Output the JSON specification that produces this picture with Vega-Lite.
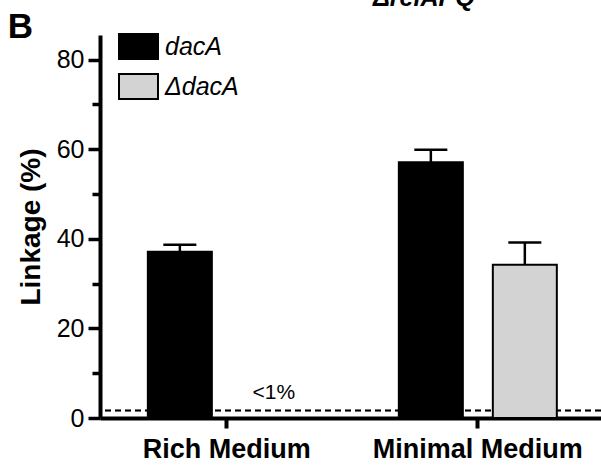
{
  "$schema": "https://vega.github.io/schema/vega-lite/v6.json",
  "width": 501,
  "height": 383,
  "autosize": {"type": "none"},
  "padding": {"left": 100, "top": 35, "right": 0, "bottom": 52},
  "config": {
    "font": "Liberation Sans",
    "view": {"stroke": null},
    "axis": {"grid": false, "domainColor": "#000000", "tickColor": "#000000", "labelColor": "#000000", "titleColor": "#000000"}
  },
  "data": {
    "values": [
      {"medium": "Rich Medium", "strain": "dacA", "linkage": 37.1, "upper": 38.7},
      {"medium": "Minimal Medium", "strain": "dacA", "linkage": 57.1, "upper": 59.9},
      {"medium": "Minimal Medium", "strain": "ΔdacA", "linkage": 34.2, "upper": 39.2}
    ]
  },
  "encoding": {
    "x": {
      "field": "medium", "type": "nominal", "sort": ["Rich Medium", "Minimal Medium"],
      "scale": {"domain": ["Rich Medium", "Minimal Medium"], "paddingInner": 0.3705, "paddingOuter": 0.1833, "align": 0.52},
      "axis": {"title": null, "labelAngle": 0, "labelFontSize": 27, "labelFontWeight": "bold", "labelLimit": 0, "tickSize": 10, "tickWidth": 4, "domainWidth": 4, "labelPadding": 8}
    }
  },
  "layer": [
    {
      "mark": {"type": "rule", "strokeDash": [6, 4], "strokeWidth": 1.5, "color": "#000000"},
      "encoding": {"x": null, "y": {"datum": 1.7, "type": "quantitative"}}
    },
    {
      "mark": {"type": "bar", "stroke": "#000000", "strokeWidth": 2},
      "encoding": {
        "xOffset": {"field": "strain", "type": "nominal", "scale": {"domain": ["dacA", "ΔdacA"], "paddingInner": 0.319, "paddingOuter": 0}},
        "y": {
          "field": "linkage", "type": "quantitative",
          "scale": {"domain": [0, 85.5], "nice": false},
          "axis": {
            "values": [0, 10, 20, 30, 40, 50, 60, 70, 80],
            "labelExpr": "datum.value % 20 == 0 ? datum.label : ''",
            "domainWidth": 4, "tickWidth": 3.5,
            "tickSize": {"condition": {"test": "datum.value % 20 == 0", "value": 12}, "value": 8},
            "labelFontSize": 25, "labelPadding": 4,
            "title": "Linkage (%)", "titleFontSize": 28, "titleFontWeight": "bold", "titlePadding": 11
          }
        },
        "color": {
          "field": "strain", "type": "nominal",
          "scale": {"domain": ["dacA", "ΔdacA"], "range": ["#000000", "#d3d3d3"]},
          "legend": {
            "title": null, "orient": "none", "legendX": 25, "legendY": -2, "padding": 0,
            "symbolType": "M-1.56,-1H1.56V1H-1.56Z", "symbolSize": 625,
            "symbolStrokeColor": "#000000", "symbolStrokeWidth": 2, "symbolOpacity": 1,
            "labelFontSize": 25, "labelFontStyle": "italic", "labelColor": "#000000", "labelOffset": 13, "rowPadding": 7
          }
        }
      }
    },
    {
      "mark": {"type": "rule", "color": "#000000", "strokeWidth": 2.5},
      "encoding": {
        "xOffset": {"field": "strain", "type": "nominal"},
        "y": {"field": "linkage", "type": "quantitative"},
        "y2": {"field": "upper"}
      }
    },
    {
      "mark": {"type": "tick", "color": "#000000", "thickness": 2.5, "size": 33, "opacity": 1},
      "encoding": {
        "xOffset": {"field": "strain", "type": "nominal"},
        "y": {"field": "upper", "type": "quantitative"}
      }
    },
    {
      "data": {"values": [{"medium": "Rich Medium", "strain": "ΔdacA", "note": "<1%"}]},
      "mark": {"type": "text", "fontSize": 21, "color": "#000000", "baseline": "middle"},
      "encoding": {
        "xOffset": {"field": "strain", "type": "nominal"},
        "y": {"datum": 5.6, "type": "quantitative"},
        "text": {"field": "note"}
      }
    },
    {
      "data": {"values": [{"medium": "Rich Medium", "label": "ΔrelAPQ"}]},
      "mark": {"type": "text", "fontSize": 25, "fontWeight": "bold", "fontStyle": "italic", "color": "#000000", "baseline": "alphabetic", "align": "center", "dx": 197, "dy": -29},
      "encoding": {
        "y": {"datum": 85.5, "type": "quantitative"},
        "text": {"field": "label"}
      }
    },
    {
      "data": {"values": [{"medium": "Rich Medium", "label": "B"}]},
      "mark": {"type": "text", "fontSize": 35, "fontWeight": "bold", "color": "#000000", "baseline": "alphabetic", "align": "left", "dx": -219, "dy": 3},
      "encoding": {
        "y": {"datum": 85.5, "type": "quantitative"},
        "text": {"field": "label"}
      }
    }
  ]
}
